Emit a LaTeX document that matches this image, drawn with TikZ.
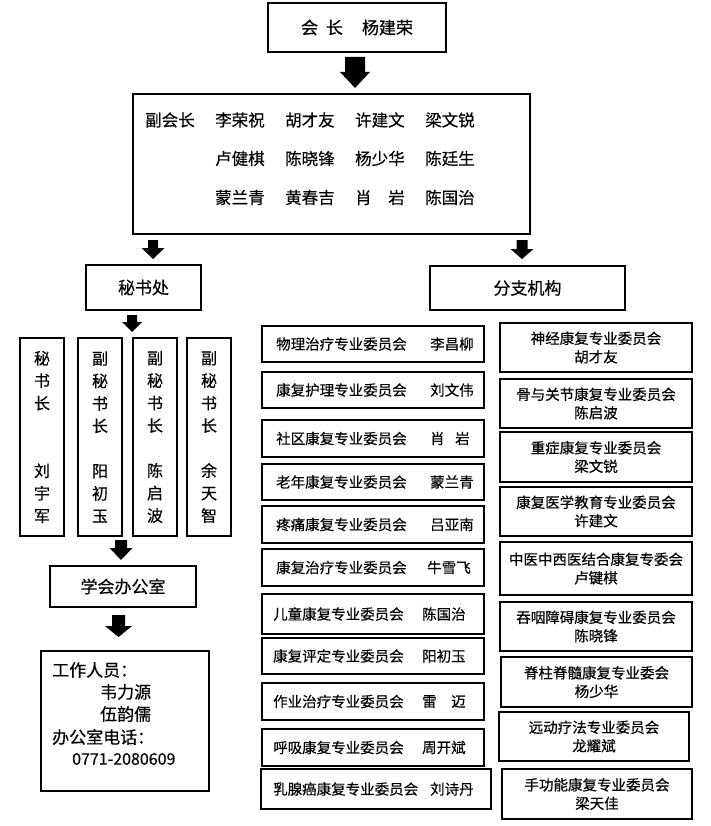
\documentclass[tikz,border=0pt]{standalone}
\usepackage{fontspec}
\setmainfont{Noto Sans CJK SC}[FakeBold=0.4]
\newcommand\barrow[6]{\fill (#1-#5,#2) -- (#1+#5,#2) -- (#1+#5,#3) -- (#1+#6,#3) -- (#1,#4) -- (#1-#6,#3) -- (#1-#5,#3) -- cycle;}
\begin{document}
\begin{tikzpicture}[x=1pt,y=-1pt,
  box/.style={draw, line width=2.3pt, inner sep=0pt, align=center},
  tx/.style={inner sep=0pt, anchor=west},
  fbig/.style={font=\fontsize{17}{22}\selectfont},
  fvice/.style={font=\fontsize{16.5}{20}\selectfont},
  fcom/.style={font=\fontsize{14.5}{18.5}\selectfont},
  fvert/.style={font=\fontsize{16}{22.5}\selectfont}]
\useasboundingbox (0,0) rectangle (710,826);
% president
\node[box, fbig, minimum width=178pt, minimum height=49pt] (pres) at (357,27.5) {会\hspace{8pt}长\hspace{19pt}杨建荣};
\barrow{355}{57}{72}{88}{10}{15}
% vice presidents
\node[box, minimum width=397pt, minimum height=140pt] (vice) at (331.5,164) {};
\node[tx, fvice] (v0) at (145,120) {副会长};
\node[tx, fvice] (v11) at (215,120) {李荣祝};
\node[tx, fvice] (v12) at (285,120) {胡才友};
\node[tx, fvice] (v13) at (355,120) {许建文};
\node[tx, fvice] (v14) at (425,120) {梁文锐};
\node[tx, fvice] (v21) at (215,158.5) {卢健棋};
\node[tx, fvice] (v22) at (285,158.5) {陈晓锋};
\node[tx, fvice] (v23) at (355,158.5) {杨少华};
\node[tx, fvice] (v24) at (425,158.5) {陈廷生};
\node[tx, fvice] (v31) at (215,197.5) {蒙兰青};
\node[tx, fvice] (v32) at (285,197.5) {黄春吉};
\node[tx, fvice] (v33) at (355,197.5) {肖\hspace{16.5pt}岩};
\node[tx, fvice] (v34) at (425,197.5) {陈国治};
\barrow{153}{240}{248}{259}{5}{11.5}
\barrow{522}{240}{249}{259}{5.5}{11.5}
% secretariat
\node[box, fbig, minimum width=115pt, minimum height=45pt] (sec) at (143.5,287.5) {秘书处};
\node[box, fbig, minimum width=195pt, minimum height=44pt] (branch) at (527.5,288) {分支机构};
\barrow{132}{315}{322}{332}{5}{10}
\node[box, fvert, minimum width=44pt, minimum height=198pt] (s1) at (42,437) {秘\\书\\长\\~\\~\\刘\\宇\\军};
\node[box, fvert, minimum width=44pt, minimum height=198pt] (s2) at (100,437) {副\\秘\\书\\长\\~\\阳\\初\\玉};
\node[box, fvert, minimum width=44pt, minimum height=198pt] (s3) at (155,437) {副\\秘\\书\\长\\~\\陈\\启\\波};
\node[box, fvert, minimum width=44pt, minimum height=198pt] (s4) at (209,437) {副\\秘\\书\\长\\~\\余\\天\\智};
\barrow{121}{540}{548}{560}{6}{11.5}
\node[box, fbig, minimum width=146pt, minimum height=41pt] (office) at (123,586.5) {学会办公室};
\barrow{118.5}{615}{626}{637}{6.5}{13.5}
\node[box, minimum width=168pt, minimum height=140pt] (staff) at (125,721) {};
\node[tx, fbig] (st1) at (52,670) {工作人员：};
\node[tx, fbig] (st2) at (100,692) {韦力源};
\node[tx, fbig] (st3) at (100,714) {伍韵儒};
\node[tx, fbig] (st4) at (52,737) {办公室电话：};
\node[tx, font=\fontsize{16}{20}\selectfont] (st5) at (72,759) {0771-2080609};
% committees, left column
\newcommand\crow[9]{%
  \node[box, minimum width=#4pt, minimum height=#5pt] (#1) at (#2,#3) {};
  \node[tx, fcom] (#1l) at (#6,#3) {#7};
  \node[tx, fcom] (#1n) at (#8,#3) {#9};}
\crow{r1}{373}{344}{222}{36}{276}{物理治疗专业委员会}{430}{李昌柳}
\crow{r2}{373}{390}{222}{36}{276}{康复护理专业委员会}{430}{刘文伟}
\crow{r3}{373}{438.5}{222}{37}{276}{社区康复专业委员会}{430}{肖\hspace{10.5pt}岩}
\crow{r4}{373}{482}{222}{36}{276}{老年康复专业委员会}{430}{蒙兰青}
\crow{r5}{373}{524.5}{222}{37}{276}{疼痛康复专业委员会}{430}{吕亚南}
\crow{r6}{373}{567.5}{222}{37}{276}{康复治疗专业委员会}{427}{牛雪飞}
\crow{r7}{373}{614}{222}{40}{273}{儿童康复专业委员会}{422}{陈国治}
\crow{r8}{373}{656}{222}{36}{273}{康复评定专业委员会}{422}{阳初玉}
\crow{r9}{373}{701.5}{222}{37}{273}{作业治疗专业委员会}{422}{雷\hspace{14.5pt}迈}
\crow{r10}{373}{747.5}{222}{37}{273}{呼吸康复专业委员会}{422}{周开斌}
\crow{r11}{376}{789}{230}{40}{273}{乳腺癌康复专业委员会}{430}{刘诗丹}
% committees, right column
\node[box, fcom, minimum width=192pt, minimum height=49pt] (q1) at (596,347.5) {神经康复专业委员会\\胡才友};
\node[box, fcom, minimum width=192pt, minimum height=49pt] (q2) at (596,403.5) {骨与关节康复专业委员会\\陈启波};
\node[box, fcom, minimum width=192pt, minimum height=50pt] (q3) at (596,457) {重症康复专业委员会\\梁文锐};
\node[box, fcom, minimum width=192pt, minimum height=49pt] (q4) at (596,511.5) {康复医学教育专业委员会\\许建文};
\node[box, fcom, minimum width=192pt, minimum height=53pt] (q5) at (596,568.5) {中医中西医结合康复专委会\\卢键棋};
\node[box, fcom, minimum width=192pt, minimum height=49pt] (q6) at (596,626.5) {吞咽障碍康复专业委员会\\陈晓锋};
\node[box, fcom, minimum width=191pt, minimum height=50pt] (q7) at (596.5,682) {脊柱脊髓康复专业委会\\杨少华};
\node[box, fcom, minimum width=190pt, minimum height=49pt] (q8) at (594,736.5) {远动疗法专业委员会\\龙耀斌};
\node[box, fcom, minimum width=190pt, minimum height=50pt] (q9) at (597,794) {手功能康复专业委员会\\梁天佳};
\end{tikzpicture}
\end{document}
